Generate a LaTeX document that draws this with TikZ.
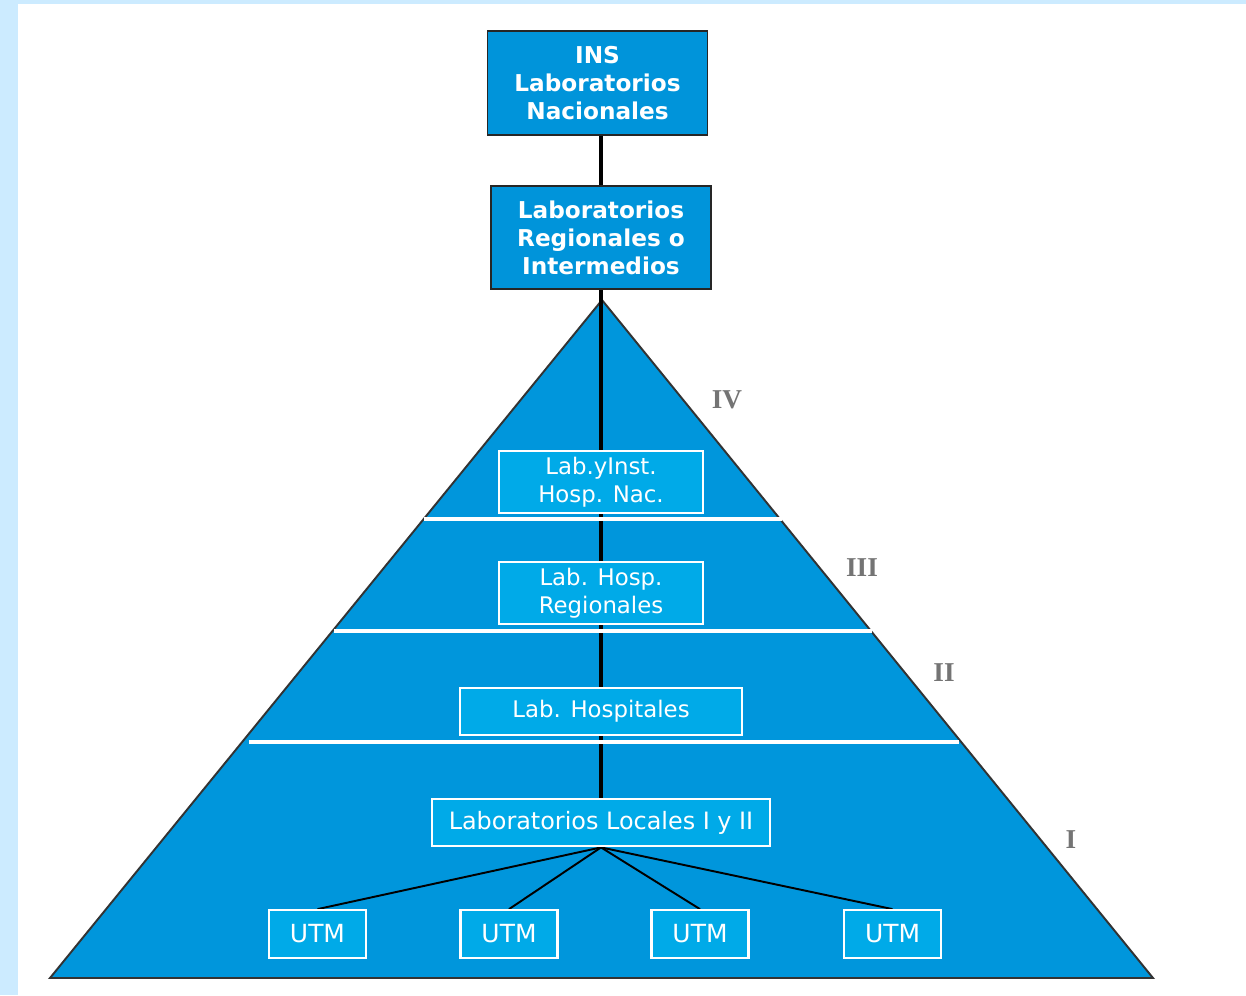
\documentclass[tikz,border=0pt]{standalone}
\usepackage{fontspec}
\setsansfont{DejaVu Sans}
\newfontfamily\levelfont{Liberation Serif}
\usetikzlibrary{positioning, backgrounds}
\definecolor{pageCol}{HTML}{CCEBFF}
\definecolor{pyrCol}{HTML}{0096DC}
\definecolor{topCol}{HTML}{0094DA}
\definecolor{innerCol}{HTML}{00AAE8}
\definecolor{levelCol}{HTML}{747474}

\begin{document}
\begin{tikzpicture}[
    x=0.02cm, y=-0.02cm,
    % Node styles
    topbox/.style={
        rectangle,
        draw=black!85,
        fill=topCol,
        text=white,
        font=\sffamily\bfseries\fontsize{13.2}{16}\selectfont,
        minimum width=4.4cm,
        minimum height=2.07cm,
        align=center,
        inner sep=0pt,
        line width=1pt
    },
    labbox/.style={
        rectangle,
        draw=white,
        fill=innerCol,
        text=white,
        font=\sffamily\fontsize{13}{16}\selectfont,
        minimum height=0.95cm,
        align=center,
        inner sep=0pt,
        line width=1.3pt
    },
    level/.style={
        font=\levelfont\bfseries\fontsize{15.5}{16}\selectfont,
        text=levelCol
    },
    link/.style={
        line width=1.9pt,
        draw=black
    },
    branch/.style={
        line width=1.1pt,
        draw=black
    },
    divider/.style={
        line width=1.8pt,
        draw=white
    }
]

    \useasboundingbox (0,0) rectangle (1246,995);

    % ==== TOP LEVEL ====
    \node[topbox] (ins) at (597.5,83) {INS\\Laboratorios\\Nacionales};
    \node[topbox] (reg) at (601,237.5) {Laboratorios\\Regionales o\\Intermedios};

    % ==== PYRAMID LEVELS ====
    \node[labbox, minimum width=4.08cm, minimum height=1.24cm] (hnac) at (601,482) {Lab.yInst.\\Hosp. Nac.};
    \node[labbox, minimum width=4.08cm, minimum height=1.24cm] (hreg) at (601,593) {Lab. Hosp.\\Regionales};
    \node[labbox, minimum width=5.64cm] (hosp) at (601,711.5) {Lab. Hospitales};
    \node[labbox, minimum width=6.76cm, font=\sffamily\fontsize{13.6}{16}\selectfont] (local) at (601,822.5) {Laboratorios Locales I y II};

    % ==== UTM ROW ====
    \foreach \i/\x in {1/317.5, 2/509, 3/700, 4/892.5}
        \node[labbox, minimum width=1.94cm, font=\sffamily\fontsize{14.2}{16}\selectfont] (utm\i) at (\x,934) {UTM};

    % ==== LEVEL NUMBERS ====
    \node[level] (lvIV) at (727,400) {IV};
    \node[level] (lvIII) at (862,568) {III};
    \node[level] (lvII) at (944,673) {II};
    \node[level] (lvI) at (1071,840) {I};

    % ==== PAGE, PYRAMID & CONNECTIONS ====
    \begin{scope}[on background layer]
        \fill[pageCol] (0,0) rectangle (1246,995);
        \fill[white] (18,4) rectangle (1246,995);

        \filldraw[fill=pyrCol, draw=black!80, line width=1.1pt, line join=miter] (602,300) -- (1153,978) -- (50,978) -- cycle;

        % Vertical chain
        \draw[link] (ins.south -| reg) -- (reg);
        \draw[link] (reg) -- (hnac);
        \draw[link] (hnac) -- (hreg);
        \draw[link] (hreg) -- (hosp);
        \draw[link] (hosp) -- (local);

        % Local labs -> UTM
        \foreach \i in {1,...,4}
            \draw[branch] (local.south) -- (utm\i.north);

        % Level separators
        \draw[divider] (424,519) -- (782,519);
        \draw[divider] (334,631) -- (872,631);
        \draw[divider] (249,742) -- (959,742);
    \end{scope}

\end{tikzpicture}
\end{document}
